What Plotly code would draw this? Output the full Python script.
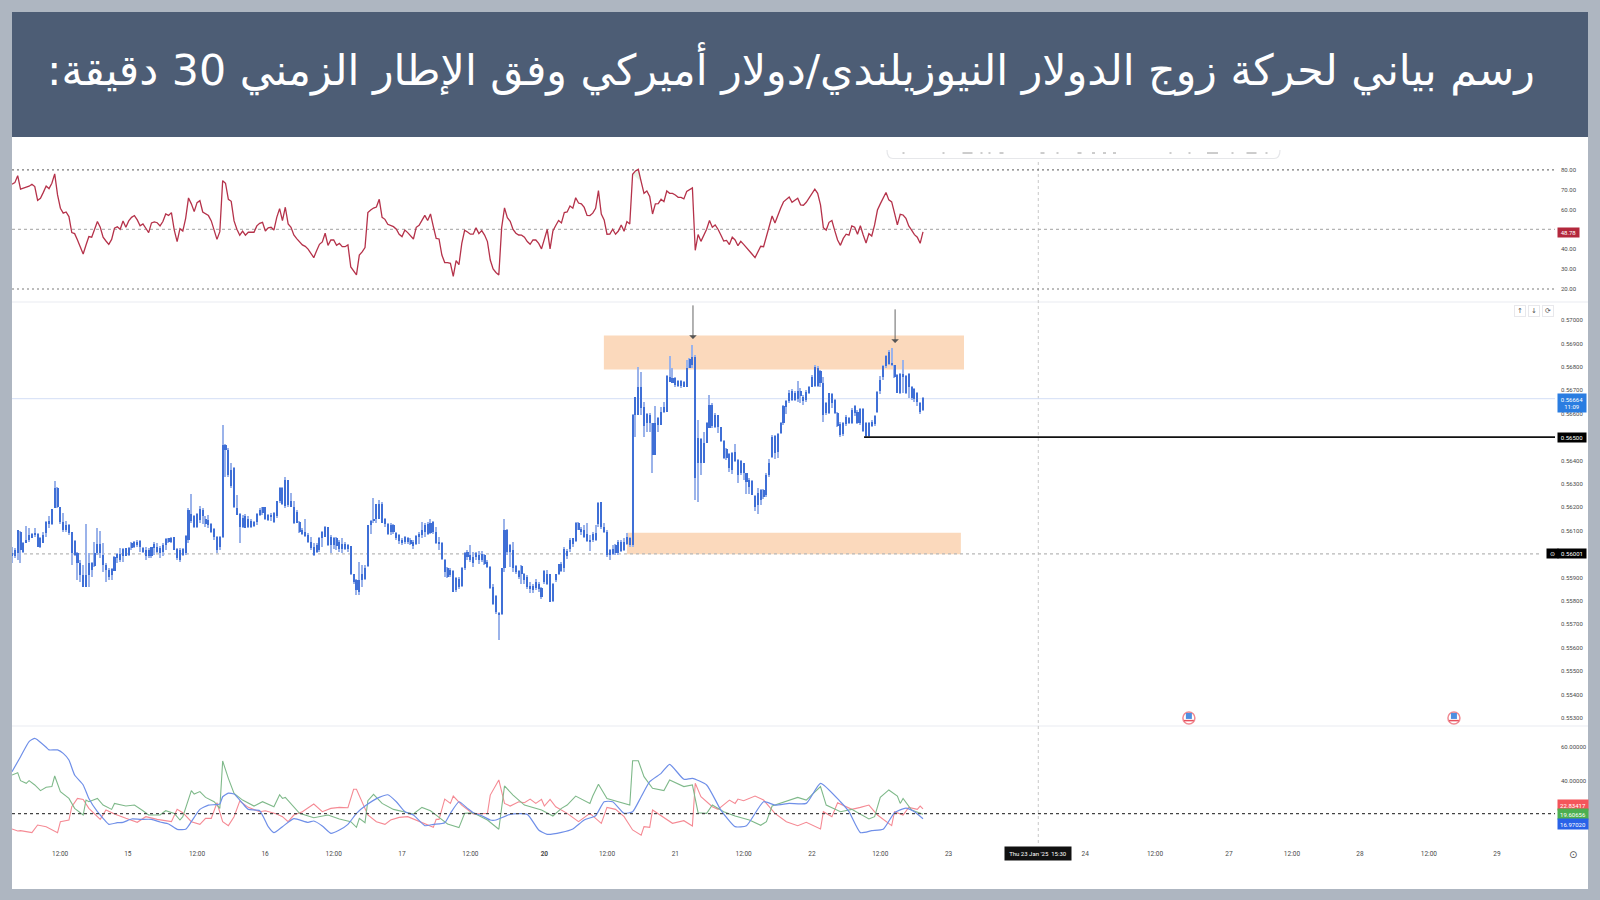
import plotly.graph_objects as go

TITLE = "\u200fرسم بياني لحركة زوج الدولار النيوزيلندي/دولار أميركي وفق الإطار الزمني 30 دقيقة:\u200f"

# RSI, one value per 30-minute bar
rsi = [72.8,73.6,77.1,70.3,70.8,71.3,71.8,72.8,71.6,64.7,65.7,68.7,71.9,70.6,73.3,78.0,67.4,60.7,58.2,58.8,
56.5,48.4,47.9,44.7,41.2,37.6,42.2,46.4,46.1,50.1,54.0,51.1,46.1,44.2,42.5,45.0,50.6,51.4,50.1,54.3,
51.1,54.3,56.1,57.0,54.8,51.8,52.8,50.6,48.4,53.3,53.8,53.4,51.8,54.0,57.8,57.1,58.5,49.7,43.9,50.4,
49.2,55.6,65.9,62.9,59.0,63.5,64.5,58.8,58.0,57.0,54.3,49.7,45.0,48.9,74.6,73.3,65.2,64.2,54.3,50.1,
47.1,49.2,47.1,48.6,48.6,48.6,51.8,53.1,53.6,49.2,50.8,51.1,49.7,56.1,60.5,54.5,61.2,52.8,51.1,47.2,
45.4,43.7,42.2,41.5,40.1,38.0,35.8,39.3,42.5,43.7,48.1,42.0,44.7,44.7,42.0,43.0,41.3,41.3,42.2,31.1,
29.1,27.1,37.1,38.7,40.9,58.5,59.8,60.8,61.3,65.2,56.1,55.1,52.6,51.8,51.4,50.1,47.6,46.4,49.7,48.4,
46.7,45.2,51.1,52.1,54.6,57.1,54.5,57.8,51.4,45.5,45.2,37.1,33.3,33.3,32.9,26.4,34.3,32.3,43.0,49.6,
48.7,47.6,47.6,50.8,47.9,49.4,47.2,43.9,34.6,30.1,28.3,27.1,50.9,60.9,55.9,54.1,50.0,48.1,47.2,47.1,
46.1,43.9,42.5,44.7,44.7,43.0,40.2,45.5,50.0,40.2,49.2,52.0,54.5,53.3,58.5,58.8,61.8,60.7,66.0,63.3,
62.9,61.1,57.1,57.0,58.2,60.7,69.6,57.8,54.8,47.6,47.7,50.1,47.6,49.2,52.3,49.1,54.0,52.8,77.8,79.5,
80.3,74.1,68.2,69.4,66.6,57.8,62.9,63.0,65.2,64.0,69.4,68.2,68.2,67.4,66.2,66.2,65.4,69.1,70.1,70.9,
39.5,47.4,44.0,47.2,50.1,54.5,51.1,52.3,50.1,47.2,44.2,44.5,42.4,46.1,44.7,41.8,44.0,42.5,41.0,39.3,
37.5,35.8,38.8,41.5,41.3,46.4,51.8,56.8,53.3,57.5,60.7,63.9,65.2,66.4,63.7,64.9,65.7,62.4,62.2,63.7,
65.7,67.7,70.3,68.2,62.4,50.9,49.7,53.6,54.5,49.4,44.7,42.0,45.5,47.6,47.1,51.8,51.1,47.6,51.9,47.2,
43.2,47.9,46.7,52.3,59.8,62.9,65.7,68.6,64.9,63.9,58.2,52.3,57.6,57.3,55.6,51.8,49.7,47.4,46.1,43.0,48.78]

# Price in 1e-5 units, one value per bar
price_high = [56032,56025,56104,56099,56054,56121,56111,56089,56111,56089,
56075,56096,56143,56161,56192,56314,56286,56203,56175,56143,
56129,56096,56061,56011,55975,55954,56129,56004,55968,56051,
56111,56099,56047,55961,55940,55940,55990,56007,56025,56025,
56025,56032,56054,56058,56061,56061,56032,56029,56025,56032,
56054,56049,56035,56047,56068,56068,56072,56075,56025,56025,
56025,56082,56196,56256,56168,56175,56206,56196,56161,56168,
56132,56111,56078,56078,56551,56471,56453,56388,56374,56253,
56175,56168,56171,56161,56149,56143,56175,56196,56203,56203,
56172,56175,56182,56228,56286,56286,56331,56317,56260,56225,
56189,56143,56111,56149,56089,56072,56047,56047,56072,56101,
56121,56118,56081,56074,56074,56060,56067,56052,56045,56034,
55917,55896,55967,55953,55953,56124,56145,56238,56216,56231,
56223,56156,56131,56131,56128,56095,56088,56067,56077,56074,
56071,56060,56081,56095,56138,56131,56138,56152,56142,56117,
56074,56052,55981,55946,55939,55931,55903,55903,55946,56010,
56017,56038,56010,56010,56014,56014,56000,55974,55948,55874,
55825,55753,55943,56152,56109,56045,56052,55953,55931,55953,
55920,55910,55882,55874,55896,55882,55860,55931,55931,55917,
55877,55917,55960,55967,56031,56020,56067,56071,56138,56138,
56114,56124,56131,56081,56095,56124,56223,56223,56131,56102,
56024,56038,56045,56060,56060,56071,56091,56074,56599,56673,
56801,56780,56652,56602,56602,56562,56633,56587,56630,56652,
56765,56847,56794,56756,56744,56744,56741,56830,56837,56894,
56851,56573,56495,56523,56566,56680,56644,56602,56595,56545,
56488,56452,56431,56438,56471,56405,56402,56391,56348,56324,
56317,56253,56281,56277,56277,56345,56405,56509,56509,56519,
56566,56637,56659,56701,56704,56699,56741,56709,56680,56701,
56718,56765,56808,56804,56787,56756,56652,56690,56687,56661,
56609,56566,56566,56595,56587,56623,56637,56616,56623,56623,
56566,56566,56573,56595,56699,56761,56808,56851,56872,56879,
56808,56770,56775,56830,56765,56775,56718,56709,56694,56652,56670]

price_low = [55961,55982,55975,55964,56004,56047,56054,56068,56075,56032,
56025,56047,56072,56111,56125,56196,56196,56129,56096,56096,
56082,55954,55990,55890,55883,55859,55861,55861,55904,55947,
55997,55982,55925,55883,55890,55890,55928,55961,55968,55968,
55990,55990,56018,56025,56032,56011,56004,55975,55982,55982,
55997,56004,55982,55990,56018,56047,56047,56018,55975,55968,
55990,55997,56047,56132,56111,56111,56132,56129,56115,56111,
56089,56061,56004,56018,56068,56331,56331,56282,56196,56168,
56049,56111,56111,56111,56111,56115,56125,56161,56168,56146,
56143,56143,56135,56153,56218,56210,56196,56203,56203,56129,
56132,56089,56082,56075,56047,56018,55992,56004,56011,56032,
56075,56035,56003,56024,56017,56010,56005,56017,56010,55910,
55874,55825,55825,55860,55889,55946,56088,56131,56131,56152,
56131,56117,56081,56081,56088,56060,56045,56038,56045,56045,
56038,56024,56038,56045,56067,56074,56081,56088,56088,56045,
56017,55974,55903,55900,55903,55839,55839,55853,55860,55931,
55974,55967,55946,55974,55960,55967,55953,55939,55853,55782,
55746,55632,55739,55924,55995,55946,55924,55917,55896,55874,
55874,55853,55832,55832,55846,55839,55810,55874,55867,55796,
55796,55882,55910,55924,55924,55981,56010,56031,56052,56102,
56081,56067,56052,56014,56052,56057,56117,56109,56091,55988,
55977,55995,55995,55995,56010,56014,56038,56031,56032,56502,
56595,56595,56499,56523,56523,56345,56424,56523,56552,56605,
56609,56737,56730,56713,56713,56709,56713,56713,56794,56794,
56231,56224,56338,56388,56473,56538,56538,56538,56516,56481,
56405,56402,56352,56342,56395,56303,56338,56317,56257,56257,
56253,56186,56171,56210,56234,56246,56331,56409,56405,56409,
56513,56552,56599,56644,56656,56656,56652,56644,56637,56652,
56684,56713,56713,56713,56716,56566,56595,56599,56623,56599,
56545,56502,56505,56548,56556,56556,56590,56556,56552,56523,
56499,56499,56542,56548,56602,56684,56744,56794,56808,56804,
56751,56687,56684,56687,56684,56666,56659,56652,56633,56599,56613]

body_top = [56004,56018,56104,56096,56047,56061,56082,56086,56089,56086,
56068,56082,56139,56143,56192,56282,56284,56200,56139,56125,
56125,56094,56058,56007,55961,55911,55911,55961,55961,56004,
56044,56044,55997,55954,55933,55935,55987,56001,56001,56021,
56025,56025,56047,56054,56054,56058,56025,56018,56018,56029,
56044,56032,56025,56039,56064,56068,56068,56072,56022,56018,
56021,56078,56189,56172,56161,56172,56192,56189,56149,56146,
56129,56106,56075,56072,56467,56467,56445,56360,56367,56196,
56172,56153,56161,56149,56143,56139,56172,56189,56200,56200,
56168,56168,56175,56225,56282,56282,56317,56317,56225,56203,
56182,56139,56104,56096,56082,56054,56032,56039,56068,56096,
56115,56115,56074,56071,56067,56052,56045,56045,56041,56034,
55914,55889,55889,55917,55943,56124,56141,56152,56213,56216,
56216,56152,56128,56124,56124,56091,56081,56062,56074,56071,
56062,56052,56077,56088,56102,56124,56128,56134,56138,56095,
56052,56048,55977,55939,55931,55929,55900,55896,55943,56003,
56010,55995,55988,56005,55995,56000,55995,55967,55946,55860,
55820,55750,55939,56102,56105,56038,56017,55948,55929,55948,
55917,55903,55863,55863,55882,55874,55857,55929,55917,55914,
55874,55914,55957,55960,56024,56014,56062,56067,56134,56134,
56109,56105,56088,56060,56088,56091,56219,56223,56117,56095,
56017,56024,56038,56052,56052,56052,56074,56067,56595,56670,
56713,56713,56627,56599,56595,56559,56562,56580,56609,56627,
56761,56758,56751,56751,56740,56740,56737,56794,56832,56844,
56844,56495,56491,56476,56562,56637,56637,56595,56595,56542,
56485,56448,56428,56434,56438,56402,56399,56388,56345,56317,
56314,56250,56260,56274,56274,56338,56388,56502,56505,56513,
56562,56633,56656,56687,56699,56690,56699,56699,56673,56694,
56716,56756,56801,56794,56784,56733,56647,56687,56684,56659,
56605,56556,56562,56585,56580,56616,56633,56609,56619,56619,
56562,56562,56566,56590,56694,56744,56804,56847,56865,56815,
56808,56765,56770,56770,56761,56770,56713,56704,56687,56647,56666]

body_bottom = [55990,55990,56004,56018,56011,56047,56061,56071,56082,56032,
56029,56047,56089,56129,56129,56196,56203,56139,56104,56104,
56089,56004,55997,55961,55911,55861,55861,55911,55933,55950,
56004,56004,55954,55933,55904,55911,55928,55982,55975,55990,
55990,55997,56025,56032,56039,56032,56011,55992,55990,55990,
56025,56011,56004,56011,56039,56054,56054,56018,55982,55975,
55997,56004,56061,56143,56115,56118,56146,56161,56129,56125,
56096,56075,56018,56032,56072,56445,56339,56289,56203,56168,
56115,56115,56111,56115,56118,56121,56139,56168,56175,56149,
56146,56158,56139,56161,56225,56215,56206,56210,56203,56132,
56135,56096,56086,56078,56054,56025,55997,56011,56018,56068,
56075,56039,56038,56038,56034,56024,56020,56024,56020,55914,
55882,55846,55839,55889,55896,55948,56124,56142,56152,56152,
56134,56128,56088,56095,56095,56067,56057,56048,56052,56052,
56045,56034,56042,56074,56081,56095,56088,56091,56095,56048,
56042,55981,55924,55903,55910,55839,55846,55860,55863,55939,
55986,55977,55963,55986,55974,55977,55960,55946,55857,55786,
55753,55739,55743,55939,56010,56010,55943,55924,55903,55917,
55891,55860,55853,55846,55857,55853,55817,55882,55872,55796,
55800,55891,55917,55929,55943,55991,56020,56042,56057,56105,
56095,56074,56057,56052,56060,56062,56128,56117,56095,55995,
55995,56000,56003,56005,56014,56017,56045,56038,56039,56595,
56595,56623,56548,56559,56559,56424,56424,56552,56552,56609,
56609,56737,56733,56723,56718,56718,56716,56716,56794,56808,
56324,56388,56388,56391,56476,56538,56548,56545,56545,56485,
56409,56409,56367,56360,56399,56338,56345,56345,56310,56288,
56253,56203,56210,56231,56245,56253,56338,56416,56431,56438,
56516,56559,56630,56656,56659,56659,56661,56676,56656,56659,
56690,56716,56718,56718,56730,56595,56602,56602,56644,56602,
56548,56509,56513,56556,56559,56562,56602,56562,56562,56528,
56505,56505,56548,56556,56609,56699,56756,56804,56812,56808,
56756,56690,56690,56756,56687,56713,56666,56661,56652,56609,56616]

# Directional movement lines: bar number and value of each turning point
adx_bars = [0,3,6,8,9,12,13,16,18,20,22,25,27,30,32,34,37,39,42,45,49,52,55,58,61,63,66,69,73,74,76,78,81,83,87,90,92,95,99,104,106,109,112,115,118,121,124,129,132,135,138,141,145,148,152,154,157,160,162,165,168,170,175,181,185,188,193,197,201,205,208,211,215,218,221,224,228,231,236,239,244,249,254,258,264,268,273,279,284,291,294,298,302,306,310,314,317,320]
adx_vals = [45.3,54.3,63.4,65.4,64.4,60.0,58.4,58.4,56.3,52.3,43.3,37.3,29.2,21.2,17.2,13.6,14.6,14.8,16.8,16.6,16.6,15.0,13.8,10.6,10.6,15.2,22.6,25.2,25.8,30.2,32.4,31.8,26.2,22.6,21.8,12.2,8.6,12.2,17.0,14.8,15.6,12.6,8.2,10.2,13.6,20.2,24.6,29.8,31.4,27.2,21.2,19.2,12.8,13.6,14.6,20.2,27.2,23.2,20.6,18.8,16.2,16.2,19.6,19.6,10.2,7.6,8.8,10.8,16.2,18.8,27.2,27.2,20.2,21.2,30.2,39.3,44.3,49.7,40.7,41.3,37.3,22.2,12.2,12.8,27.2,25.2,26.2,26.2,38.3,27.2,21.2,8.6,9.8,10.6,20.6,23.4,21.2,16.97]

dip_bars = [0,2,3,5,6,8,10,12,14,15,17,20,22,25,26,27,30,32,35,36,40,43,46,48,52,54,57,59,60,63,64,66,68,71,73,74,76,78,81,85,88,92,94,95,96,99,101,106,111,115,119,121,122,124,125,127,130,134,141,144,147,150,153,157,159,162,167,171,173,176,180,186,190,193,195,198,203,204,206,209,211,215,217,218,220,222,225,229,231,236,239,241,244,246,250,254,259,263,265,267,273,276,279,284,286,291,295,301,303,305,308,311,312,313,316,320]
dip_vals = [43.3,44.7,39.9,38.3,39.9,37.3,33.9,35.9,36.3,42.7,33.3,29.2,23.2,19.2,28.2,27.2,29.2,25.2,22.6,26.2,24.6,25.2,21.8,19.2,19.2,21.8,20.2,16.2,18.2,33.9,31.8,33.3,29.8,27.2,23.2,51.7,41.3,32.2,28.2,24.6,27.2,24.2,31.4,29.2,29.8,23.8,20.2,17.6,19.2,16.8,15.2,11.8,17.2,14.6,27.8,31.6,26.2,22.6,19.8,23.8,21.8,17.8,13.8,11.6,20.2,20.6,16.2,10.6,36.7,31.2,25.2,22.2,18.6,23.2,25.2,30.6,26.2,30.6,37.7,29.2,28.2,26.2,25.2,51.9,51.9,42.3,35.3,33.9,40.3,36.3,37.3,20.6,20.2,25.2,21.2,18.6,16.2,13.0,15.2,24.6,28.2,29.8,28.2,36.3,25.2,21.2,22.6,16.8,18.2,29.8,34.3,30.6,26.2,29.2,22.2,19.6]

dim_bars = [0,2,3,6,7,9,12,16,17,20,21,23,25,27,30,31,33,36,40,44,47,51,56,58,60,63,66,68,70,72,74,76,78,80,83,87,89,93,95,97,99,102,106,109,112,115,118,120,121,123,125,128,131,133,136,139,143,148,149,150,152,154,155,158,162,167,168,171,173,175,178,180,182,184,186,187,189,191,195,199,203,207,209,212,215,218,221,222,224,225,232,236,239,240,242,246,248,252,254,255,257,259,261,264,268,272,276,279,284,285,288,290,295,298,301,304,309,310,313,315,318,319,320]
dim_vals = [10.8,9.6,9.8,8.6,8.6,13.2,12.2,8.6,15.2,16.2,24.2,29.2,28.6,23.2,17.8,16.6,22.2,19.8,17.2,14.8,18.2,16.6,15.2,22.6,20.6,15.2,13.6,17.2,17.2,26.6,15.2,12.8,18.2,27.6,23.8,21.2,21.8,19.8,18.2,15.2,19.2,21.2,25.8,21.2,23.2,23.8,23.6,34.7,34.7,27.2,19.2,15.2,13.6,16.2,17.8,18.2,15.2,11.8,16.6,16.6,28.8,26.2,30.6,25.2,19.8,20.2,31.2,40.3,26.2,24.6,27.2,26.6,28.8,26.2,28.6,24.6,28.6,24.2,20.2,15.2,20.2,14.2,23.8,22.6,18.2,10.2,7.1,12.2,11.8,22.2,14.2,15.8,12.6,38.3,30.2,24.2,22.6,28.2,26.2,28.8,27.8,29.2,30.6,28.2,20.2,15.2,12.8,14.8,10.8,21.2,18.2,26.6,22.6,23.8,25.2,19.2,12.8,21.2,19.2,23.8,22.6,24.6,22.83]

# Time axis
time_tick_bars = [16.9,40.7,65,88.9,113,137,161,187,209,233,257,281,305,329,377,401.5,427.5,449.6,473.5,497.7,521.6]
time_tick_labels = ["12:00","15","12:00","16","12:00","17","12:00","<b>20</b>","12:00","21","12:00","22","12:00","23","24","12:00","27","12:00","28","12:00","29"]

# Axis ticks (the levels under a value tag are covered by that tag)
rsi_ticks = [20,30,40,60,70,80]
price_ticks = [0.553,0.554,0.555,0.556,0.557,0.558,0.559,0.561,0.562,0.563,0.564,0.566,0.567,0.568,0.569,0.570]
dmi_ticks = [40,60]

# Reading levels
last_price = 0.56664
support_price = 0.56500
pivot_price = 0.56001
cursor_bar = 360.5
upper_zone = dict(x0=207.9, x1=334.4, y0=0.56789, y1=0.56934)
lower_zone = dict(x0=216.0, x1=333.3, y0=0.56000, y1=0.56091)
support_start_bar = 299.3
arrows = [(239.2, 0.56919, 0.57069), (310.2, 0.56902, 0.57052)]
event_bars = [413.4, 506.5]
event_prices = [0.5530, 0.5530]

X_END = 542.0
FRAME = "#aeb6c1"
BANNER = "#4d5d75"
WICK = "#9bb3ea"
BODY = "#3f6fd6"
TXT = "#4a4a4a"
AXF = "Roboto, sans-serif"


def px(x):
    return x / 1600


def py(y):
    return 1 - y / 900


bars = list(range(len(rsi)))
to_price = lambda seq: [v / 1e5 for v in seq]
high, low, top, bottom = map(to_price, (price_high, price_low, body_top, body_bottom))

fig = go.Figure()

# Price bars
fig.add_bar(x=bars, y=[h - l for h, l in zip(high, low)], base=low, width=0.42,
            marker=dict(color=WICK, line=dict(width=0)), xaxis="x", yaxis="y")
fig.add_bar(x=bars, y=[max(t - b, 0.00002) for t, b in zip(top, bottom)], base=bottom, width=0.72,
            marker=dict(color=BODY, line=dict(width=0)), xaxis="x", yaxis="y")

# RSI
peak = [i for i, v in enumerate(rsi) if v > 74 and 215 < i < 225]
fig.add_scatter(x=[bars[i] for i in peak], y=[rsi[i] for i in peak], mode="none", fill="toself",
                fillcolor="rgba(76,175,80,0.13)", xaxis="x", yaxis="y2")
fig.add_scatter(x=bars, y=rsi, mode="lines", line=dict(color="#b5324a", width=1.3), xaxis="x", yaxis="y2")

# Directional lines
fig.add_scatter(x=dim_bars, y=dim_vals, mode="lines", line=dict(color="#f58a94", width=1.1), xaxis="x", yaxis="y3")
fig.add_scatter(x=dip_bars, y=dip_vals, mode="lines", line=dict(color="#7fb98a", width=1.1), xaxis="x", yaxis="y3")
fig.add_scatter(x=adx_bars, y=adx_vals, mode="lines", line=dict(color="#6f8fe8", width=1.2, shape="spline", smoothing=0.5),
                xaxis="x", yaxis="y3")

# Calendar events
fig.add_scatter(x=event_bars, y=event_prices, mode="markers",
                marker=dict(size=12, color="#ffffff", line=dict(color="#f08a92", width=1.5)), xaxis="x", yaxis="y")
fig.add_scatter(x=event_bars, y=[p + 0.00009 for p in event_prices], mode="markers",
                marker=dict(size=6, color="#4f8fe0", symbol="square"), xaxis="x", yaxis="y")
fig.add_scatter(x=event_bars, y=[p - 0.00011 for p in event_prices], mode="markers",
                marker=dict(size=7, symbol="line-ew", line=dict(color="#e8505e", width=1.5)), xaxis="x", yaxis="y")

shapes = [
    dict(type="rect", xref="paper", yref="paper", x0=px(12), x1=px(1588), y0=py(889), y1=py(137),
         fillcolor="#ffffff", line_width=0, layer="below"),
    dict(type="rect", xref="paper", yref="paper", x0=px(12), x1=px(1588), y0=py(137), y1=py(12),
         fillcolor=BANNER, line_width=0, layer="below"),
    dict(type="line", xref="paper", yref="paper", x0=px(12), x1=px(1588), y0=py(302), y1=py(302),
         line=dict(color="#f0f2f6", width=1.5), layer="below"),
    dict(type="line", xref="paper", yref="paper", x0=px(12), x1=px(1588), y0=py(726), y1=py(726),
         line=dict(color="#f0f2f6", width=1.5), layer="below"),
    # Toolbar pill cut off under the banner
    dict(type="path", xref="paper", yref="paper", layer="below",
         path=f"M {px(887)} {py(150)} Q {px(887)} {py(158.5)} {px(893)} {py(158.5)} L {px(1274)} {py(158.5)} "
              f"Q {px(1280)} {py(158.5)} {px(1280)} {py(150)}",
         line=dict(color="#e6e7ea", width=1.2), fillcolor="rgba(0,0,0,0)"),
]
for gx, w in [(903, 1), (943, 1), (967, 9), (981, 1), (989, 1), (1001, 3), (1042, 3), (1057, 1), (1079, 3),
              (1093, 2), (1104, 2), (1114, 2), (1170, 1), (1189, 1), (1212, 10), (1232, 1), (1251, 9), (1266, 1)]:
    shapes.append(dict(type="line", xref="paper", yref="paper", x0=px(gx - w / 2), x1=px(gx + w / 2 + 1),
                       y0=py(153), y1=py(153), line=dict(color="#9a9a9a", width=1), layer="below"))
for z in (upper_zone, lower_zone):
    shapes.append(dict(type="rect", xref="x", yref="y", fillcolor="#fbd9bc", line_width=0, layer="below", **z))
for lvl, col, dash in [(80, "#7a7a7a", "2px,3px"), (50, "#b4b4b4", "3px,3px"), (20, "#7a7a7a", "2px,3px")]:
    shapes.append(dict(type="line", xref="x", yref="y2", x0=0, x1=X_END, y0=lvl, y1=lvl,
                       line=dict(color=col, width=1.2, dash=dash), layer="below"))
shapes += [
    dict(type="line", xref="x", yref="y", x0=0, x1=X_END, y0=last_price, y1=last_price,
         line=dict(color="#d3def6", width=1), layer="below"),
    dict(type="line", xref="x", yref="y", x0=0, x1=537, y0=pivot_price, y1=pivot_price,
         line=dict(color="#b8b8b8", width=1.2, dash="3px,3px"), layer="below"),
    dict(type="line", xref="x", yref="y", x0=support_start_bar, x1=X_END, y0=support_price, y1=support_price,
         line=dict(color="#111111", width=1.6)),
    dict(type="line", xref="x", yref="y3", x0=0, x1=X_END, y0=20, y1=20,
         line=dict(color="#444444", width=1.2, dash="3px,3px")),
    dict(type="line", xref="x", yref="paper", x0=cursor_bar, x1=cursor_bar, y0=py(843), y1=py(159),
         line=dict(color="#c8c8c8", width=1, dash="3px,3px"), layer="below"),
]

ann = [
    dict(xref="paper", yref="paper", x=px(791), y=py(69), xanchor="center", yanchor="middle", text=TITLE, showarrow=False,
         font=dict(family="DejaVu Sans", size=42.7, color="#ffffff")),
]


def tag(yref, value, text, bg, width=28, height=9, yshift=0, xshift=2):
    return dict(xref="x domain", yref=yref, x=1, y=value, xanchor="left", yanchor="middle", text=text,
                showarrow=False, bgcolor=bg, width=width, height=height, xshift=xshift, yshift=yshift,
                borderpad=0, align="center", font=dict(family=AXF, size=6, color="#ffffff"))


ann += [
    tag("y2", rsi[-1], f"{rsi[-1]:.2f}", "#b3283c", width=21, height=9, yshift=-1),
    tag("y", last_price, f"{last_price:.5f}<br>11:09", "#2a7de1", height=18, yshift=-4),
    tag("y", support_price, f"{support_price:.5f}", "#000000"),
    tag("y", pivot_price, f"{pivot_price:.5f}", "#000000"),
    tag("y", pivot_price, "⊙", "#000000", width=11, xshift=-9),
    tag("y3", 22.83417, "22.83417", "#f4555a", width=30, height=10, yshift=4),
    tag("y3", 19.60656, "19.60656", "#4caf50", width=30, height=10, yshift=0),
    tag("y3", 16.97020, "16.97020", "#2962e8", width=30, height=10, yshift=-5),
    dict(xref="x", yref="paper", x=cursor_bar, y=py(853), xanchor="center", yanchor="middle",
         text="Thu 23 Jan '25  15:30", showarrow=False,
         bgcolor="#111111", width=66, height=13, borderpad=0, font=dict(family=AXF, size=6, color="#ffffff")),
    dict(xref="paper", yref="paper", x=px(1573), y=py(854), xanchor="center", yanchor="middle", text="⊙", showarrow=False,
         font=dict(family="DejaVu Sans", size=10, color="#555555")),
]
for bx, glyph in [(1520, "↑"), (1534, "↓"), (1548, "⟳")]:
    ann.append(dict(xref="paper", yref="paper", x=px(bx), y=py(311.5), xanchor="center", yanchor="middle",
                    text=glyph, showarrow=False,
                    width=10, height=10, borderpad=0, borderwidth=1, bordercolor="#e8e8ec", bgcolor="#ffffff",
                    font=dict(family="DejaVu Sans", size=7, color="#555555")))
for ax_bar, head, tail in arrows:
    ann.append(dict(xref="x", yref="y", axref="x", ayref="y", x=ax_bar, y=head, ax=ax_bar, ay=tail, text="",
                    showarrow=True, arrowhead=1, arrowsize=1.4, arrowwidth=0.9, arrowcolor="#555555", standoff=0))

y_common = dict(side="right", anchor="x", showgrid=False, zeroline=False, showline=False, ticks="",
                ticklabelstandoff=5, tickfont=dict(family=AXF, size=6, color=TXT), fixedrange=True)

fig.update_layout(
    width=1600, height=900, margin=dict(l=0, r=0, t=0, b=0), autosize=False,
    paper_bgcolor=FRAME, plot_bgcolor="rgba(0,0,0,0)", showlegend=False, hovermode=False,
    barmode="overlay", bargap=0, shapes=shapes, annotations=ann,
    xaxis=dict(domain=[px(12), px(1555)], range=[0, X_END], anchor="y3", showgrid=False, zeroline=False,
               showline=False, ticks="", tickmode="array", tickvals=time_tick_bars, ticktext=time_tick_labels,
               tickangle=0, ticklabelstandoff=8, tickfont=dict(family=AXF, size=6.5, color=TXT), fixedrange=True),
    yaxis=dict(domain=[py(726), py(302)], range=[0.55266, 0.57077], tickmode="array", tickvals=price_ticks,
               ticktext=[f"{t:.5f}" for t in price_ticks], **y_common),
    yaxis2=dict(domain=[py(302), py(137)], range=[13.44, 96.6], tickmode="array", tickvals=rsi_ticks,
                ticktext=[f"{t:.2f}" for t in rsi_ticks], **y_common),
    yaxis3=dict(domain=[py(840), py(726)], range=[4.16, 72.8], tickmode="array", tickvals=dmi_ticks,
                ticktext=[f"{t:.5f}" for t in dmi_ticks], **y_common),
)

fig.write_html("out.html", config=dict(displayModeBar=False, responsive=False),
               post_script="document.body.style.margin='0';document.body.style.overflow='hidden';")
